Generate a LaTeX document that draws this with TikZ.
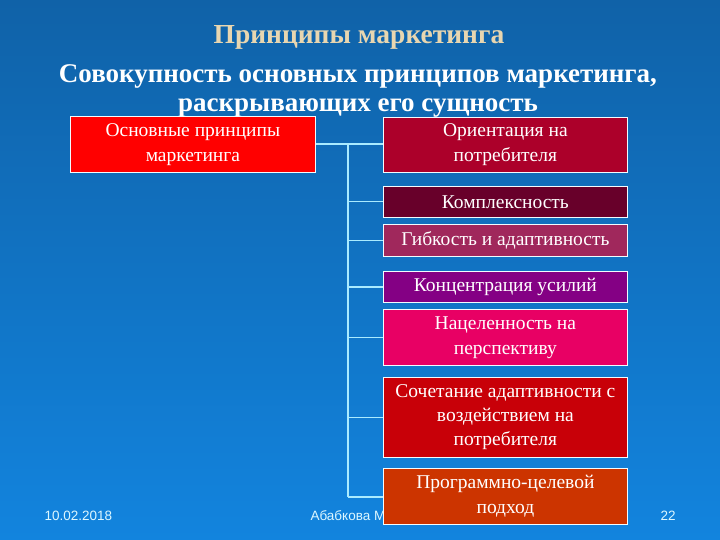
\documentclass[tikz,border=0pt]{standalone}
\usepackage{fontspec}
\setmainfont{Liberation Serif}
\newfontfamily\footfont{Liberation Sans}
\definecolor{bgtop}{RGB}{16,98,168}
\definecolor{bgbot}{RGB}{18,132,222}
\definecolor{titlecol}{RGB}{232,214,176}
\definecolor{linecol}{RGB}{170,235,255}
\definecolor{cOrient}{RGB}{172,0,42}
\definecolor{cKompl}{RGB}{104,0,42}
\definecolor{cGibk}{RGB}{160,40,92}
\definecolor{cKonc}{RGB}{132,0,132}
\definecolor{cNacel}{RGB}{232,0,100}
\definecolor{cSochet}{RGB}{200,0,8}
\definecolor{cProgr}{RGB}{204,52,0}
\tikzset{
  pbox/.style={draw=white!85!linecol, line width=0.8pt, text=white, align=center,
    font=\fontsize{19.5}{25}\selectfont, inner sep=0pt, anchor=north west},
  bus/.style={draw=linecol, line width=1.2pt},
  foot/.style={text=linecol!40!white, font=\footfont\fontsize{13.5}{15}\selectfont}
}
\begin{document}
\begin{tikzpicture}[x=1pt, y=-1pt]
    % 背景
    \shade[top color=bgtop, bottom color=bgbot] (0,0) rectangle (720,540);
    \useasboundingbox (0,0) rectangle (720,540);

    % 标题
    \node[text=titlecol, font=\fontsize{27.5}{30}\bfseries\selectfont] (title) at (359,37) {Принципы маркетинга};
    \node[text=white, font=\fontsize{27}{29}\bfseries\selectfont, align=center] (subtitle) at (358,91)
        {Совокупность основных принципов маркетинга,\\раскрывающих его сущность};

    % 页脚
    \node[foot, anchor=west] (date) at (41,516) {10.02.2018};
    \node[foot, anchor=west] (author) at (307,516) {Абабкова М};
    \node[foot] (page) at (668,516) {22};

    % 主框
    \node[pbox, fill=red, minimum width=245pt, minimum height=56pt] (main) at (70,116)
        {Основные принципы\\маркетинга};

    % 右侧七个原则
    \node[pbox, fill=cOrient, minimum width=244pt, minimum height=55pt] (r1) at (383,117) {Ориентация на\\потребителя};
    \node[pbox, fill=cKompl, minimum width=244pt, minimum height=31pt] (r2) at (383,186) {Комплексность};
    \node[pbox, fill=cGibk, minimum width=244pt, minimum height=32pt] (r3) at (383,224) {Гибкость и адаптивность};
    \node[pbox, fill=cKonc, minimum width=244pt, minimum height=31pt] (r4) at (383,271) {Концентрация усилий};
    \node[pbox, fill=cNacel, minimum width=244pt, minimum height=56pt] (r5) at (383,309) {Нацеленность на\\перспективу};
    \node[pbox, fill=cSochet, minimum width=244pt, minimum height=80pt, font=\fontsize{19.5}{24}\selectfont] (r6) at (383,377)
        {Сочетание адаптивности с\\воздействием на\\потребителя};
    \node[pbox, fill=cProgr, minimum width=244pt, minimum height=56pt] (r7) at (383,468) {Программно-целевой\\подход};

    % 连线
    \coordinate (bustop) at (348,144);
    \coordinate (busbot) at (348,497);
    \draw[bus] (main.east |- bustop) -- (bustop) -- (busbot);
    \draw[bus] (bustop) -- (bustop -| r1.west);
    \foreach \n in {r2,r3,r4,r5,r6} {
        \draw[bus] (bustop |- \n.west) -- (\n.west);
    }
    \draw[bus] (busbot) -- (busbot -| r7.west);
\end{tikzpicture}
\end{document}
